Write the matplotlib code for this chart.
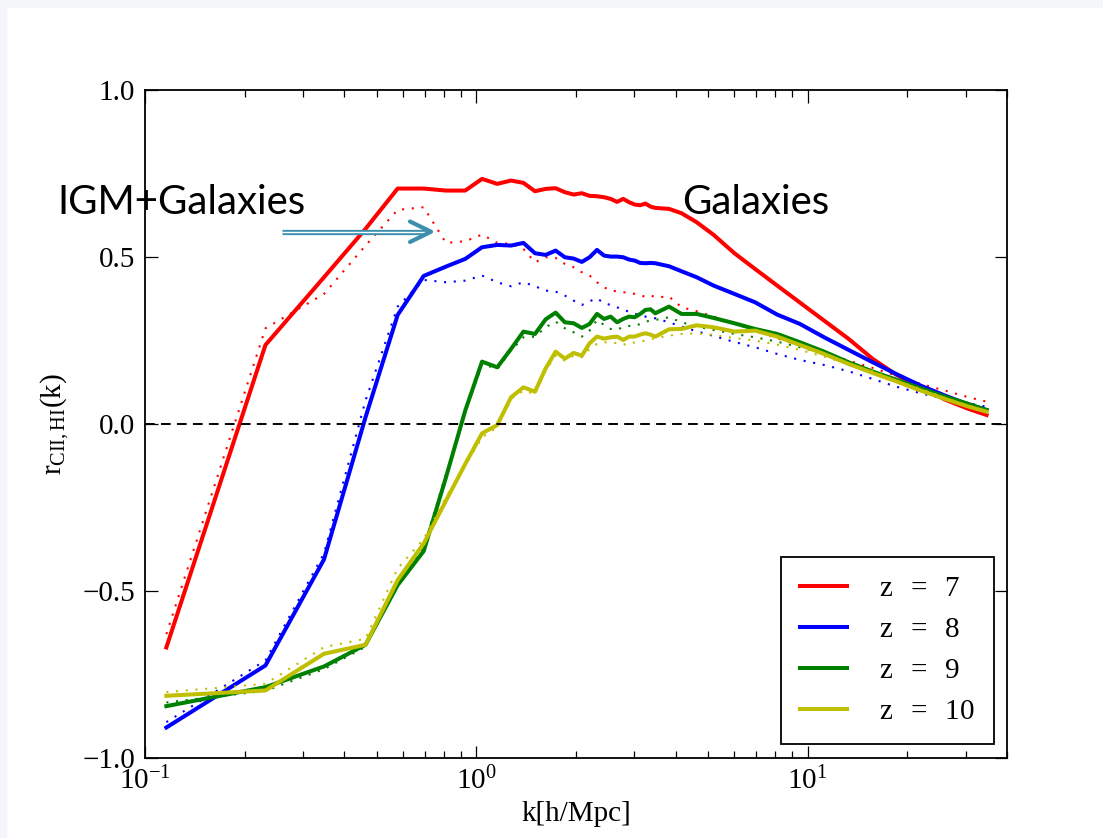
import matplotlib
matplotlib.use("Agg")
import matplotlib.pyplot as plt
from matplotlib.lines import Line2D
from matplotlib.patches import Rectangle

# k bins [h/Mpc]
k = [0.116, 0.231, 0.347, 0.463, 0.579, 0.694, 0.810, 0.926, 1.041, 1.157,
     1.273, 1.388, 1.504, 1.620, 1.736, 1.851, 1.967, 2.083, 2.198, 2.314,
     2.430, 2.545, 2.661, 2.777, 2.893, 3.008, 3.124, 3.240, 3.355, 3.471,
     3.818, 4.165, 4.628, 5.207, 6.016, 6.942, 8.099, 9.487, 11.22, 13.31,
     15.74, 18.51, 21.98, 26.03, 30.66, 34.71]

# r_CII,HI(k), solid lines
r_z7 = [-0.67, 0.237, 0.44, 0.585, 0.706, 0.706, 0.70, 0.70, 0.735, 0.72,
        0.73, 0.723, 0.698, 0.705, 0.707, 0.695, 0.688, 0.692, 0.684, 0.683,
        0.680, 0.675, 0.666, 0.675, 0.665, 0.658, 0.656, 0.661, 0.652, 0.648,
        0.645, 0.632, 0.605, 0.567, 0.512, 0.465, 0.415, 0.364, 0.31, 0.255,
        0.195, 0.148, 0.11, 0.073, 0.045, 0.027]
r_z8 = [-0.91, -0.724, -0.406, 0.02, 0.327, 0.444, 0.472, 0.495, 0.53, 0.537,
        0.535, 0.543, 0.512, 0.507, 0.52, 0.50, 0.496, 0.486, 0.50, 0.522,
        0.505, 0.502, 0.502, 0.50, 0.493, 0.49, 0.483, 0.482, 0.483, 0.482,
        0.473, 0.458, 0.44, 0.415, 0.39, 0.365, 0.328, 0.30, 0.26, 0.222,
        0.185, 0.15, 0.115, 0.085, 0.058, 0.042]
r_z9 = [-0.846, -0.789, -0.727, -0.662, -0.483, -0.381, -0.16, 0.04, 0.187, 0.17,
        0.225, 0.277, 0.27, 0.314, 0.334, 0.305, 0.302, 0.288, 0.30, 0.33,
        0.315, 0.322, 0.305, 0.315, 0.322, 0.32, 0.33, 0.342, 0.344, 0.332,
        0.352, 0.33, 0.33, 0.318, 0.302, 0.285, 0.27, 0.245, 0.217, 0.185,
        0.157, 0.133, 0.107, 0.082, 0.06, 0.042]
r_z10 = [-0.815, -0.799, -0.689, -0.662, -0.468, -0.358, -0.23, -0.12, -0.028, -0.003,
         0.08, 0.11, 0.097, 0.167, 0.217, 0.196, 0.213, 0.205, 0.242, 0.262,
         0.256, 0.26, 0.262, 0.252, 0.262, 0.262, 0.268, 0.272, 0.268, 0.262,
         0.284, 0.285, 0.296, 0.29, 0.277, 0.28, 0.262, 0.237, 0.21, 0.18,
         0.153, 0.128, 0.10, 0.075, 0.052, 0.037]

# dotted lines
r_z7_dot = [-0.63, 0.287, 0.39, 0.535, 0.642, 0.65, 0.543, 0.548, 0.568, 0.543,
            0.54, 0.525, 0.485, 0.50, 0.498, 0.48, 0.47, 0.455, 0.445, 0.425,
            0.41, 0.40, 0.398, 0.395, 0.394, 0.39, 0.385, 0.382, 0.386, 0.38,
            0.382, 0.35, 0.338, 0.322, 0.302, 0.28, 0.257, 0.235, 0.212, 0.19,
            0.168, 0.145, 0.12, 0.10, 0.08, 0.067]
r_z8_dot = [-0.894, -0.709, -0.388, 0.07, 0.352, 0.432, 0.425, 0.43, 0.445, 0.425,
            0.413, 0.425, 0.413, 0.40, 0.397, 0.385, 0.37, 0.357, 0.368, 0.377,
            0.362, 0.357, 0.35, 0.342, 0.337, 0.33, 0.327, 0.322, 0.318, 0.317,
            0.305, 0.292, 0.278, 0.264, 0.246, 0.23, 0.21, 0.192, 0.177, 0.158,
            0.135, 0.112, 0.092, 0.075, 0.062, 0.052]
r_z9_dot = [-0.835, -0.80, -0.735, -0.668, -0.47, -0.37, -0.15, 0.035, 0.18, 0.165,
            0.22, 0.26, 0.262, 0.29, 0.307, 0.287, 0.275, 0.262, 0.28, 0.312,
            0.297, 0.285, 0.282, 0.292, 0.294, 0.294, 0.30, 0.307, 0.31, 0.312,
            0.32, 0.305, 0.292, 0.282, 0.27, 0.26, 0.247, 0.23, 0.212, 0.185,
            0.157, 0.13, 0.103, 0.078, 0.056, 0.042]
r_z10_dot = [-0.804, -0.779, -0.669, -0.644, -0.433, -0.345, -0.22, -0.125, -0.04, -0.01,
             0.075, 0.10, 0.09, 0.16, 0.205, 0.19, 0.205, 0.20, 0.225, 0.24,
             0.245, 0.245, 0.242, 0.237, 0.245, 0.244, 0.247, 0.25, 0.255, 0.257,
             0.265, 0.27, 0.272, 0.267, 0.258, 0.25, 0.238, 0.222, 0.202, 0.18,
             0.158, 0.13, 0.105, 0.078, 0.055, 0.038]

redshifts = ["7", "8", "9", "10"]
colores = ["r", "b", "g", "y"]

W, H = 1103, 838


def fx(px):
    return px / W


def fy(py):
    return 1 - py / H


def main():
    plt.rcParams["font.family"] = "serif"
    plt.rcParams["font.serif"] = ["Liberation Serif", "DejaVu Serif"]
    plt.rcParams["mathtext.fontset"] = "custom"
    plt.rcParams["mathtext.rm"] = "Liberation Serif"
    plt.rcParams["mathtext.it"] = "Liberation Serif:italic"
    plt.rcParams["lines.scale_dashes"] = False

    fig = plt.figure(figsize=(W / 100, H / 100), dpi=100)
    fig.patch.set_facecolor("white")
    # borde claro del pantallazo
    fig.add_artist(Rectangle((0, fy(7)), 1, 1 - fy(7), transform=fig.transFigure,
                             color="#f4f6fa", zorder=0))
    fig.add_artist(Rectangle((0, 0), fx(6), 1, transform=fig.transFigure,
                             color="#f4f6fa", zorder=0))

    ax = fig.add_axes([fx(145), fy(757.5), fx(862), 667 / H])

    solidas = [r_z7, r_z8, r_z9, r_z10]
    punteadas = [r_z7_dot, r_z8_dot, r_z9_dot, r_z10_dot]
    for z, c, rs, rd in zip(redshifts, colores, solidas, punteadas):
        ax.plot(k, rs, color=c, lw=2.9, label=r"$\mathrm{z\ \ =\ \ %s}$" % z)
        ax.plot(k, rd, color=c, lw=1.5, dashes=(1.5, 5.5))

    ax.axhline(0, color="k", lw=1.4, dashes=(7, 4.5))

    ax.set_xscale("log")
    ax.set_xlim(0.1, 40)
    ax.set_ylim(-1, 1)
    ax.set_yticks([-1.0, -0.5, 0.0, 0.5, 1.0])
    ax.tick_params(which="both", direction="in", top=True, right=True,
                   labelsize=21, width=0.9)
    ax.tick_params(which="major", length=9, pad=7)
    ax.tick_params(which="minor", length=5)
    for s in ax.spines.values():
        s.set_linewidth(1.3)

    ax.set_xlabel("k[h/Mpc]", fontsize=21, labelpad=4)
    ax.set_ylabel(r"$\mathrm{r_{CII,HI}(k)}$", fontsize=21, labelpad=8)

    leg = ax.legend(loc="lower right", fontsize=21, handlelength=1.6,
                    handletextpad=1.1, labelspacing=0.5, borderpad=0.65,
                    borderaxespad=0.45, fancybox=False, framealpha=1)
    leg.get_frame().set_edgecolor("k")
    leg.get_frame().set_linewidth(1.3)

    # anotaciones
    fig.text(fx(57), fy(214), "IGM+Galaxies", fontsize=29, family="Lato",
             va="baseline", ha="left")
    fig.text(fx(682), fy(214), "Galaxies", fontsize=29, family="Lato",
             va="baseline", ha="left")

    teal = "#3d8fae"
    fig.add_artist(Line2D([fx(282), fx(428)], [fy(231.7), fy(231.7)],
                          transform=fig.transFigure, color=teal, lw=3.8,
                          solid_capstyle="butt"))
    fig.add_artist(Line2D([fx(282), fx(428)], [fy(231.7), fy(231.7)],
                          transform=fig.transFigure, color="white", lw=1.0,
                          solid_capstyle="butt"))
    fig.add_artist(Line2D([fx(410), fx(431), fx(410)],
                          [fy(221.5), fy(231.7), fy(242)],
                          transform=fig.transFigure, color=teal, lw=3.0,
                          solid_capstyle="round", solid_joinstyle="round"))

    fig.savefig("out.png", dpi=100)


if __name__ == "__main__":
    main()
